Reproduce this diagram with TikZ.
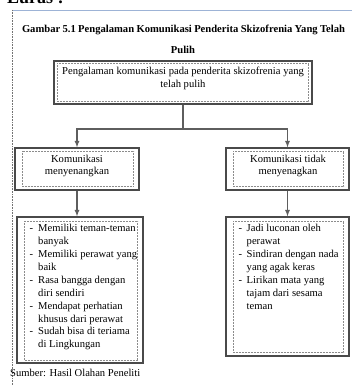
\documentclass[tikz,border=0pt]{standalone}
\usepackage{fontspec}
\setmainfont{Liberation Serif}
\usepackage{tikz}
\usetikzlibrary{arrows,calc,positioning}
\definecolor{boxgray}{HTML}{4A4A4A}
\definecolor{linkgray}{HTML}{5E5E5E}
\definecolor{dotgray}{HTML}{8C8C8C}
\definecolor{rulerblue}{HTML}{9DB3D6}

\begin{document}
\begin{tikzpicture}[x=1pt, y=-1pt, >=latex, font=\fontsize{10.6}{12.9}\selectfont]
   \useasboundingbox (0,0) rectangle (352,385);
   % page marks
   \node[anchor=base west, inner sep=0, font=\fontsize{18}{20}\selectfont\bfseries] (kop) at (7,4) {Luras !};
   \draw[rulerblue, line width=0.8pt] (12,10) -- (352,10);
   \draw[black!55, densely dotted, line width=0.6pt] (12,10) -- (12,385);
   \node[font=\fontsize{10.6}{12}\selectfont\bfseries] (judul) at (183.5,30) {\makebox[323pt][s]{Gambar 5.1 Pengalaman Komunikasi Penderita Skizofrenia Yang Telah}};
   \node[font=\fontsize{10.6}{12}\selectfont\bfseries] (pulih) at (183,50) {Pulih};
   \begin{scope}[every node/.style={draw=boxgray, line width=1.3pt, inner sep=0}]
    \node (pengalaman) [minimum width=258, minimum height=43] at (183,82.5) {};
    \node (senang) [minimum width=124, minimum height=42] at (77,169) {};
    \node (tidak) [minimum width=123, minimum height=42] at (287.5,169) {};
    \node (senangisi) [minimum width=126, minimum height=146] at (80,290) {};
    \node (tidakisi) [minimum width=123, minimum height=139] at (287.5,286.5) {};
   \end{scope}
   \begin{scope}[dotgray, densely dotted, line width=0.5pt]
    \draw ($(pengalaman.north west)+(4,3)$) rectangle ($(pengalaman.south east)+(-4,-3)$);
    \draw ($(senang.north west)+(8,4)$) rectangle ($(senang.south east)+(-6,-4)$);
    \draw ($(tidak.north west)+(8,4)$) rectangle ($(tidak.south east)+(-6,-4)$);
    \draw ($(senangisi.north west)+(8,5)$) rectangle ($(senangisi.south east)+(-6,-3)$);
    \draw ($(tidakisi.north west)+(8,5)$) rectangle ($(tidakisi.south east)+(-6,-4)$);
   \end{scope}
   \node[align=center] (pengalamanteks) at (183,78) {Pengalaman komunikasi pada penderita skizofrenia yang\\telah pulih};
   \node[align=center] (senangteks) at (77,166) {Komunikasi\\menyenangkan};
   \node[align=center] (tidakteks) at (288,166) {Komunikasi tidak\\menyenagkan};
   \node[anchor=north west, inner sep=0] (senangdaftar) at (29.5,222.5) {%
    \begin{tabular}{@{}l@{\hspace{5pt}}l@{}}
     - & Memiliki teman-teman\\
       & banyak\\
     - & Memiliki perawat yang\\
       & baik\\
     - & Rasa bangga dengan\\
       & diri sendiri\\
     - & Mendapat perhatian\\
       & khusus dari perawat\\
     - & Sudah bisa di teriama\\
       & di Lingkungan
    \end{tabular}};
   \node[anchor=north west, inner sep=0] (tidakdaftar) at (238.5,222.5) {%
    \begin{tabular}{@{}l@{\hspace{4.5pt}}l@{}}
     - & Jadi luconan oleh\\
       & perawat\\
     - & Sindiran dengan nada\\
       & yang agak keras\\
     - & Lirikan mata yang\\
       & tajam dari sesama\\
       & teman
    \end{tabular}};
   \node[anchor=west, inner sep=0] (sumber) at (10,373) {Sumber: Hasil Olahan Peneliti};
   \coordinate (cabang) at (183,129);
   \begin{scope}[linkgray, line width=1.2pt]
    \draw (pengalaman.south) -- (cabang);
    \draw[->] (cabang) -| (senang.north);
    \draw[->] (cabang) -| (tidak.north);
    \draw[->] (senang.south) -- (senang.south |- senangisi.north);
    \draw[->] (tidak.south) -- (tidak.south |- tidakisi.north);
   \end{scope}
\end{tikzpicture}
\end{document}
